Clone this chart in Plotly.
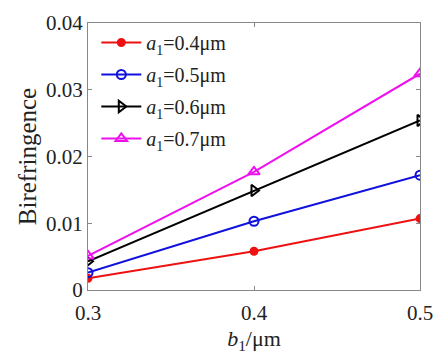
import plotly.graph_objects as go

b1 = [0.3, 0.4, 0.5]
a04 = [0.00175, 0.0058, 0.0107]
a05 = [0.0026, 0.0103, 0.0172]
a06 = [0.0043, 0.0149, 0.0254]
a07 = [0.0051, 0.0177, 0.0324]
names = ["<i>a</i><sub>1</sub>=0.4μm", "<i>a</i><sub>1</sub>=0.5μm",
         "<i>a</i><sub>1</sub>=0.6μm", "<i>a</i><sub>1</sub>=0.7μm"]
x_ticks = [0.3, 0.4, 0.5]
y_ticks = [0, 0.01, 0.02, 0.03, 0.04]
y_labels = ["0", "0.01", "0.02", "0.03", "0.04"]

series = [
    (a04, "#ee1111", "circle", 7),
    (a05, "#1111dd", "circle-open", 9),
    (a06, "#000000", "triangle-right-open", 10),
    (a07, "#ee11ee", "triangle-up-open", 10),
]

fig = go.Figure()
for i, ((vals, col, sym, sz), nm) in enumerate(zip(series, names)):
    fig.add_trace(go.Scatter(
        x=b1, y=vals, name=nm, mode="lines+markers", legendgroup=f"g{i}",
        line=dict(color=col, width=2),
        marker=dict(symbol=sym, size=sz, color=col, line=dict(color=col, width=2)),
    ))

font = "Liberation Serif, Times New Roman, serif"
fig.update_layout(
    width=439, height=356,
    margin=dict(l=80, r=27, t=15, b=74, autoexpand=False),
    paper_bgcolor="white", plot_bgcolor="white",
    font=dict(family=font, size=18, color="#222"),
    showlegend=True,
    legend=dict(x=0.025, y=1.0, xanchor="left", yanchor="top",
                bgcolor="rgba(255,255,255,0)", font=dict(size=20, family=font),
                tracegroupgap=3, itemwidth=40),
)
fig.update_xaxes(
    range=[0.3, 0.5], tickvals=x_ticks, ticktext=["0.3", "0.4", "0.5"],
    showgrid=False, zeroline=False, showline=True, linecolor="#888", linewidth=1,
    mirror="ticks", ticks="inside", ticklen=4, tickcolor="#888", automargin=False,
    ticklabelstandoff=4,
    title=dict(text="<i>b</i><sub>1</sub>/μm", font=dict(size=22, family=font), standoff=6),
    tickfont=dict(size=21),
)
fig.update_yaxes(
    range=[0, 0.04], tickvals=y_ticks, ticktext=y_labels,
    showgrid=False, zeroline=False, showline=True, linecolor="#888", linewidth=1,
    mirror="ticks", ticks="inside", ticklen=4, tickcolor="#888", automargin=False,
    title=dict(text="Birefringence", font=dict(size=25, family=font), standoff=2),
    tickfont=dict(size=21),
)
fig.write_html("out.html")
